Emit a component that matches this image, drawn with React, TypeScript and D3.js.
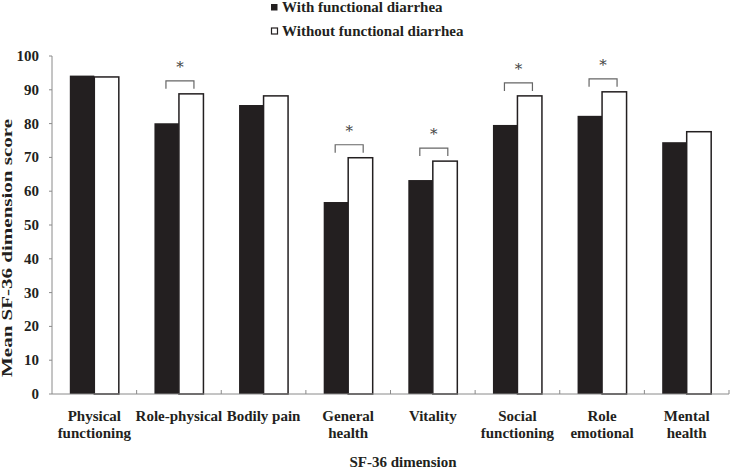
import React from "react";
import * as d3 from "d3";

const categories: string[][] = [
  ["Physical", "functioning"],
  ["Role-physical"],
  ["Bodily pain"],
  ["General", "health"],
  ["Vitality"],
  ["Social", "functioning"],
  ["Role", "emotional"],
  ["Mental", "health"],
];
const withFD: number[] = [94.2, 80.1, 85.5, 56.8, 63.3, 79.6, 82.3, 74.5];
const withoutFD: number[] = [93.8, 88.8, 88.2, 69.9, 68.9, 88.2, 89.4, 77.6];
const significant: boolean[] = [false, true, false, true, true, true, true, false];
const yTicks: number[] = [0, 10, 20, 30, 40, 50, 60, 70, 80, 90, 100];
const seriesNames: string[] = ["With functional diarrhea", "Without functional diarrhea"];

const FONT = '"Liberation Serif", "Times New Roman", serif';

export default function App() {
  const W = 731, H = 469;
  const left = 52, right = 729, top = 56, bottom = 394;
  const keys = categories.map((c) => c.join(" "));
  const x = d3.scaleBand<string>().domain(keys).range([left, right]).padding(0);
  const y = d3.scaleLinear().domain([0, 100]).range([bottom, top]);
  const bw = 24.5;
  const axisColor = "#8a8a8a";

  return (
    <svg width={W} height={H} style={{ position: "absolute", left: 0, top: 0, background: "#fff" }} fontFamily={FONT}>
      {/* legend */}
      <rect x={271} y={4} width={6.5} height={6.5} fill="#231f20" />
      <text x={282} y={12} fontSize={15} fontWeight="bold" fill="#231f20">{seriesNames[0]}</text>
      <rect x={271.5} y={28} width={6} height={6} fill="#fff" stroke="#231f20" strokeWidth={1.2} />
      <text x={282} y={35.5} fontSize={15} fontWeight="bold" fill="#231f20">{seriesNames[1]}</text>

      {/* bars */}
      {keys.map((k, i) => {
        const c = (x(k) as number) + x.bandwidth() / 2;
        return (
          <g key={k}>
            <rect x={c - bw} y={y(withFD[i])} width={bw} height={bottom - y(withFD[i])} fill="#231f20" />
            <rect x={c} y={y(withoutFD[i])} width={bw} height={bottom - y(withoutFD[i])} fill="#fff" stroke="#231f20" strokeWidth={1.5} />
          </g>
        );
      })}

      {/* significance */}
      {keys.map((k, i) => {
        if (!significant[i]) return null;
        const c = (x(k) as number) + x.bandwidth() / 2;
        const ty = y(withoutFD[i]) - 13;
        const x1 = c - 13, x2 = c + 15;
        return (
          <g key={"s" + k}>
            <path d={`M${x1},${ty + 8}V${ty}H${x2}V${ty + 8}`} fill="none" stroke="#666" strokeWidth={1.2} />
            <text x={(x1 + x2) / 2} y={ty - 9} textAnchor="middle" fontSize={15} fill="#444" fontFamily='"DejaVu Serif", "Liberation Serif", serif' style={{ fontVariantEmoji: "text" } as any}>{"*\uFE0E"}</text>
          </g>
        );
      })}

      {/* axes */}
      <line x1={left} x2={left} y1={top} y2={bottom} stroke={axisColor} strokeWidth={1} />
      <line x1={left} x2={right} y1={bottom} y2={bottom} stroke={axisColor} strokeWidth={1} />
      {yTicks.map((t) => (
        <g key={"y" + t}>
          <line x1={left - 3} x2={left} y1={y(t)} y2={y(t)} stroke={axisColor} />
          <text x={39} y={y(t) + 5} textAnchor="end" fontSize={15} fontWeight="bold" fill="#231f20">{t}</text>
        </g>
      ))}
      {keys.map((k) => (
        <line key={"xt" + k} x1={(x(k) as number) + x.bandwidth()} x2={(x(k) as number) + x.bandwidth()} y1={bottom} y2={bottom - 4} stroke={axisColor} />
      ))}
      {keys.map((k, i) => {
        const c = (x(k) as number) + x.bandwidth() / 2;
        return (
          <text key={"xl" + k} textAnchor="middle" fontSize={15} fontWeight="bold" fill="#231f20">
            {categories[i].map((line, j) => (
              <tspan key={j} x={c} y={420.5 + j * 17}>{line}</tspan>
            ))}
          </text>
        );
      })}

      {/* axis titles */}
      <text x={403} y={467} textAnchor="middle" fontSize={15} fontWeight="bold" fill="#231f20">SF-36 dimension</text>
      <text transform={`translate(12,248) rotate(-90)`} textAnchor="middle" fontSize={15} fontWeight="bold" fill="#231f20" textLength={258} lengthAdjust="spacingAndGlyphs">Mean SF-36 dimension score</text>
    </svg>
  );
}
